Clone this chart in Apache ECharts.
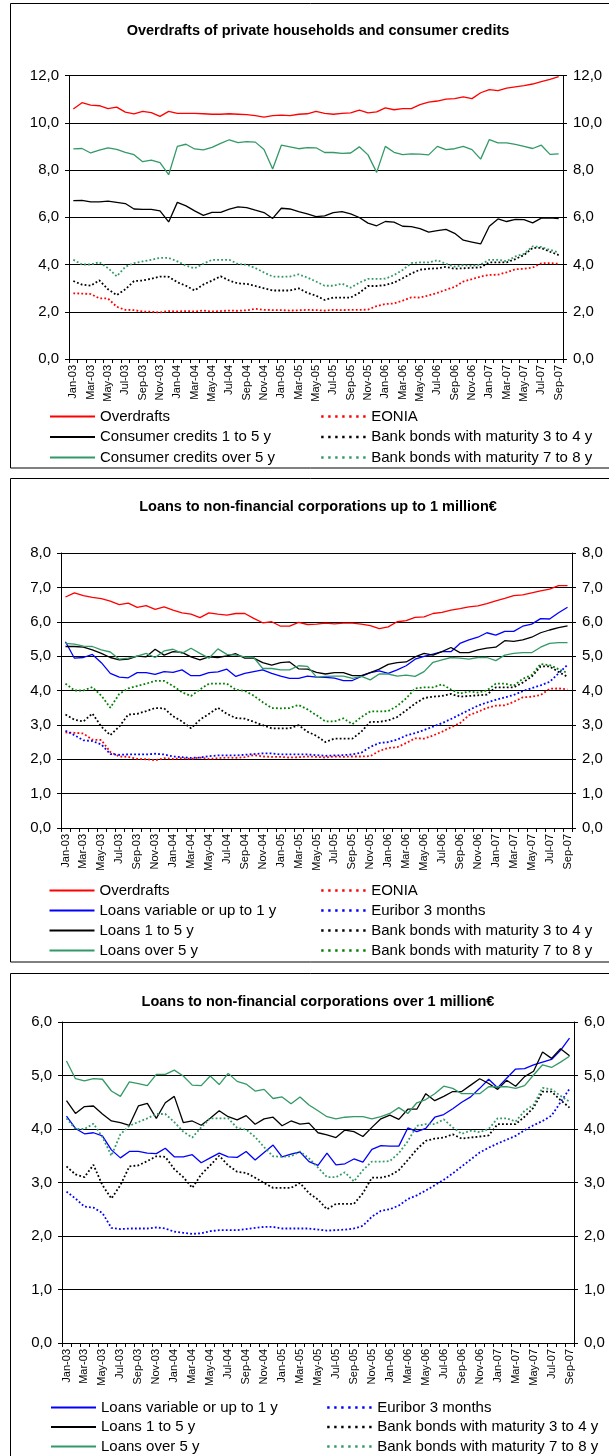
<!DOCTYPE html>
<html><head><meta charset="utf-8">
<script src="https://cdn.jsdelivr.net/npm/echarts/dist/echarts.min.js"></script>
<style>html,body{margin:0;padding:0;background:#fff}#c{width:609px;height:1456px}</style>
</head><body><div id="c"></div>
<script>
const months = ['Jan-03','Feb-03','Mar-03','Apr-03','May-03','Jun-03','Jul-03','Aug-03','Sep-03','Oct-03','Nov-03','Dec-03',
'Jan-04','Feb-04','Mar-04','Apr-04','May-04','Jun-04','Jul-04','Aug-04','Sep-04','Oct-04','Nov-04','Dec-04',
'Jan-05','Feb-05','Mar-05','Apr-05','May-05','Jun-05','Jul-05','Aug-05','Sep-05','Oct-05','Nov-05','Dec-05',
'Jan-06','Feb-06','Mar-06','Apr-06','May-06','Jun-06','Jul-06','Aug-06','Sep-06','Oct-06','Nov-06','Dec-06',
'Jan-07','Feb-07','Mar-07','Apr-07','May-07','Jun-07','Jul-07','Aug-07','Sep-07'];

// Common reference rates
const eonia = [2.78,2.77,2.75,2.57,2.56,2.21,2.08,2.07,2.01,2.00,1.97,2.03,
2.01,2.03,2.01,2.05,2.01,2.03,2.05,2.04,2.06,2.12,2.08,2.07,
2.07,2.05,2.06,2.08,2.07,2.05,2.08,2.07,2.08,2.08,2.09,2.24,
2.33,2.35,2.47,2.61,2.60,2.69,2.80,2.93,3.05,3.28,3.38,3.49,
3.56,3.57,3.67,3.80,3.82,3.87,4.05,4.06,4.03];
const euribor3m = [2.83,2.70,2.55,2.53,2.43,2.15,2.13,2.14,2.14,2.14,2.16,2.14,
2.08,2.06,2.04,2.05,2.09,2.11,2.11,2.11,2.13,2.15,2.17,2.17,
2.14,2.14,2.14,2.14,2.12,2.10,2.11,2.12,2.14,2.19,2.36,2.47,
2.50,2.57,2.69,2.76,2.85,2.95,3.05,3.17,3.30,3.43,3.56,3.65,
3.73,3.80,3.87,3.98,4.07,4.15,4.25,4.50,4.75];
const bonds34 = [3.30,3.15,3.10,3.33,2.95,2.70,2.95,3.30,3.32,3.40,3.49,3.48,
3.25,3.10,2.90,3.15,3.32,3.50,3.32,3.20,3.18,3.09,2.99,2.90,
2.90,2.90,2.99,2.80,2.68,2.50,2.60,2.60,2.60,2.80,3.09,3.09,
3.13,3.23,3.42,3.62,3.78,3.82,3.84,3.90,3.82,3.84,3.86,3.88,
4.09,4.09,4.09,4.23,4.40,4.70,4.70,4.54,4.40];
const bonds78 = [4.20,4.00,4.00,4.10,3.85,3.50,3.90,4.06,4.13,4.20,4.28,4.28,
4.13,3.95,3.84,4.03,4.20,4.20,4.20,4.02,3.99,3.85,3.66,3.49,
3.48,3.49,3.58,3.45,3.28,3.10,3.10,3.19,3.02,3.23,3.39,3.39,
3.40,3.55,3.77,4.06,4.09,4.09,4.18,4.03,3.91,3.97,3.94,4.00,
4.20,4.20,4.14,4.34,4.45,4.77,4.74,4.62,4.51];

// Panel 1: private households
const hhOverdrafts = [10.58,10.85,10.75,10.72,10.60,10.66,10.45,10.38,10.48,10.43,10.27,10.48,
10.40,10.40,10.40,10.38,10.36,10.36,10.38,10.36,10.34,10.30,10.24,10.30,
10.32,10.30,10.36,10.38,10.48,10.40,10.36,10.40,10.42,10.53,10.42,10.46,
10.63,10.55,10.60,10.60,10.77,10.87,10.92,11.00,11.02,11.10,11.02,11.27,
11.40,11.36,11.47,11.52,11.57,11.64,11.74,11.84,11.95];
const hhConsumer1to5 = [6.70,6.71,6.65,6.65,6.68,6.63,6.58,6.35,6.33,6.33,6.27,5.80,
6.63,6.48,6.27,6.08,6.21,6.21,6.34,6.44,6.41,6.30,6.20,5.95,
6.38,6.35,6.24,6.14,6.03,6.06,6.20,6.24,6.14,5.99,5.75,5.64,
5.82,5.79,5.62,5.60,5.52,5.37,5.43,5.49,5.32,5.03,4.95,4.87,
5.62,5.93,5.82,5.91,5.90,5.76,5.96,5.97,5.94];
const hhConsumerOver5 = [8.89,8.91,8.72,8.84,8.94,8.87,8.75,8.65,8.35,8.42,8.31,7.80,
9.00,9.09,8.89,8.85,8.96,9.13,9.28,9.16,9.20,9.18,8.87,8.04,
9.05,8.98,8.90,8.95,8.94,8.74,8.74,8.70,8.72,8.98,8.64,7.90,
9.00,8.75,8.65,8.68,8.67,8.64,9.00,8.86,8.90,9.00,8.86,8.46,
9.29,9.15,9.15,9.08,9.00,8.91,9.05,8.66,8.68];

// Panel 2: corporations up to 1 million
const smOverdrafts = [6.72,6.84,6.76,6.71,6.67,6.60,6.50,6.54,6.42,6.47,6.36,6.43,
6.34,6.26,6.22,6.12,6.26,6.22,6.19,6.24,6.24,6.10,5.97,6.00,
5.87,5.87,5.98,5.92,5.93,5.96,5.94,5.96,5.96,5.93,5.89,5.80,
5.85,6.00,6.03,6.13,6.14,6.24,6.27,6.34,6.38,6.43,6.46,6.53,
6.61,6.68,6.76,6.78,6.84,6.90,6.95,7.05,7.05];
const smVariable = [5.42,4.94,4.96,5.05,4.81,4.50,4.39,4.37,4.52,4.52,4.47,4.55,
4.53,4.60,4.43,4.43,4.52,4.54,4.62,4.41,4.50,4.55,4.60,4.50,
4.42,4.35,4.35,4.42,4.39,4.38,4.36,4.29,4.29,4.41,4.52,4.57,
4.50,4.60,4.72,4.91,4.99,5.06,5.13,5.13,5.37,5.47,5.55,5.68,
5.61,5.72,5.72,5.87,5.93,6.09,6.08,6.26,6.42];
const sm1to5 = [5.28,5.28,5.26,5.18,5.08,4.96,4.89,4.91,5.00,4.98,5.20,5.03,
5.13,5.11,4.98,4.89,4.98,4.96,5.01,5.07,4.94,4.94,4.81,4.74,
4.81,4.83,4.63,4.62,4.53,4.48,4.52,4.52,4.43,4.43,4.52,4.62,
4.76,4.81,4.83,4.98,5.08,5.03,5.13,5.25,5.10,5.10,5.18,5.23,
5.26,5.45,5.43,5.47,5.55,5.68,5.76,5.83,5.88];
const smOver5 = [5.37,5.35,5.29,5.28,5.18,5.12,4.91,4.94,5.00,5.08,4.96,5.15,
5.20,5.08,5.23,5.08,4.94,5.21,5.05,5.03,4.98,4.96,4.64,4.64,
4.60,4.60,4.72,4.70,4.39,4.41,4.42,4.42,4.35,4.41,4.31,4.48,
4.48,4.42,4.45,4.41,4.55,4.82,4.89,4.96,4.94,4.91,4.96,4.96,
4.87,5.03,5.08,5.10,5.10,5.26,5.37,5.39,5.39];

// Panel 3: corporations over 1 million
const lgVariable = [4.24,4.01,3.91,3.93,3.87,3.61,3.46,3.58,3.58,3.55,3.54,3.64,
3.48,3.48,3.52,3.37,3.46,3.55,3.48,3.47,3.58,3.42,3.56,3.70,
3.48,3.53,3.57,3.39,3.32,3.55,3.33,3.35,3.44,3.38,3.62,3.69,
3.68,3.68,4.02,3.95,4.01,4.22,4.27,4.38,4.50,4.60,4.76,4.93,
4.77,4.95,5.12,5.13,5.20,5.25,5.30,5.47,5.70];
const lg1to5 = [4.53,4.29,4.42,4.43,4.28,4.15,4.12,4.07,4.43,4.48,4.20,4.49,
4.61,4.12,4.15,4.07,4.20,4.34,4.23,4.17,4.25,4.09,4.19,4.22,
4.06,4.15,4.09,4.11,3.93,3.89,3.84,3.98,3.95,3.86,4.03,4.19,
4.26,4.18,4.37,4.37,4.66,4.53,4.61,4.70,4.70,4.82,4.94,4.85,
4.74,4.91,4.80,4.98,5.08,5.44,5.32,5.50,5.37];
const lgOver5 = [5.27,4.94,4.90,4.94,4.93,4.71,4.61,4.88,4.85,4.81,5.02,5.02,
5.10,4.99,4.82,4.81,4.99,4.83,5.04,4.89,4.84,4.71,4.74,4.57,
4.60,4.47,4.60,4.45,4.34,4.23,4.19,4.22,4.23,4.23,4.19,4.23,
4.29,4.40,4.29,4.49,4.55,4.66,4.80,4.76,4.66,4.66,4.66,4.79,
4.79,4.79,4.76,4.81,5.01,5.20,5.15,5.25,5.36];

const titles = ['Overdrafts of private households and consumer credits',
  'Loans to non-financial corporations up to 1 million€',
  'Loans to non-financial corporations over 1 million€'];
const yMax = [12, 8, 6];
const yStep = [2, 1, 1];

const FONT = "'Liberation Sans', Arial, Helvetica, sans-serif";
const RED = '#FF0000', BLACK = '#000000', GREEN = '#339966', BLUE = '#0000FF', DKGREEN = '#008000';

const grids = [
  {left: 69, top: 75.5, width: 494, height: 283.5},
  {left: 61, top: 553, width: 511, height: 275},
  {left: 62, top: 1022, width: 512, height: 321}
];

const xAxes = grids.map((g, i) => ({
  type: 'category', gridIndex: i, data: months, boundaryGap: true,
  axisLine: {show: true, onZero: false, lineStyle: {color: '#000', width: 1}},
  axisTick: {show: true, interval: 0, length: 4, lineStyle: {color: '#000'}},
  axisLabel: {interval: 1, rotate: 90, fontSize: 11, margin: 6, color: '#000', fontFamily: FONT},
  splitLine: {show: false}
}));
const yAxes = [];
grids.forEach((g, i) => {
  ['left', 'right'].forEach(pos => {
    yAxes.push({
      type: 'value', gridIndex: i, position: pos, min: 0, max: yMax[i], interval: yStep[i],
      axisLine: {show: true, lineStyle: {color: '#000', width: 1}},
      axisTick: {show: true, length: 4, lineStyle: {color: '#000'}},
      axisLabel: {fontSize: 15, margin: 10, color: '#000', fontFamily: FONT,
        formatter: v => v.toFixed(1).replace('.', ',')},
      splitLine: {show: pos === 'left', lineStyle: {color: '#000', width: 1}}
    });
  });
});

function ln(name, data, color, dotted, gi) {
  return {
    type: 'line', name: name, data: data, xAxisIndex: gi, yAxisIndex: gi * 2,
    symbol: 'none', showSymbol: false, silent: true, animation: false,
    lineStyle: {color: color, width: dotted ? 1.8 : 1.3, type: dotted ? [1.8, 2.2] : 'solid'},
    itemStyle: {color: color}
  };
}
const N78b = 'Bank bonds with maturity 7 to 8 y|p2';
const series = [
  ln('Overdrafts', hhOverdrafts, RED, false, 0),
  ln('Consumer credits 1 to 5 y', hhConsumer1to5, BLACK, false, 0),
  ln('Consumer credits over 5 y', hhConsumerOver5, GREEN, false, 0),
  ln('EONIA', eonia, RED, true, 0),
  ln('Bank bonds with maturity 3 to 4 y', bonds34, BLACK, true, 0),
  ln('Bank bonds with maturity 7 to 8 y', bonds78, GREEN, true, 0),

  ln('Overdrafts', smOverdrafts, RED, false, 1),
  ln('Loans variable or up to 1 y', smVariable, BLUE, false, 1),
  ln('Loans 1 to 5 y', sm1to5, BLACK, false, 1),
  ln('Loans over 5 y', smOver5, GREEN, false, 1),
  ln('EONIA', eonia, RED, true, 1),
  ln('Euribor 3 months', euribor3m, BLUE, true, 1),
  ln('Bank bonds with maturity 3 to 4 y', bonds34, BLACK, true, 1),
  ln(N78b, bonds78, DKGREEN, true, 1),

  ln('Loans variable or up to 1 y', lgVariable, BLUE, false, 2),
  ln('Loans 1 to 5 y', lg1to5, BLACK, false, 2),
  ln('Loans over 5 y', lgOver5, GREEN, false, 2),
  ln('Euribor 3 months', euribor3m, BLUE, true, 2),
  ln('Bank bonds with maturity 3 to 4 y', bonds34, BLACK, true, 2),
  ln('Bank bonds with maturity 7 to 8 y', bonds78, GREEN, true, 2)
];

const hideSym = {opacity: 0, borderWidth: 0};
function lg(left, top, gap, names, dotted) {
  const o = {
    orient: 'vertical', left: left, top: top, itemWidth: 45, itemHeight: 14, itemGap: gap,
    selectedMode: false, padding: 0,
    itemStyle: hideSym,
    textStyle: {fontSize: 15, lineHeight: 14, color: '#000', fontFamily: FONT},
    formatter: n => n.split('|')[0],
    data: names.map(n => ({name: n, itemStyle: hideSym}))
  };
  if (dotted) o.lineStyle = {type: [2.4, 4.6], width: 2.4};
  return o;
}
const legends = [
  lg(49, 409, 5.5, ['Overdrafts', 'Consumer credits 1 to 5 y', 'Consumer credits over 5 y'], false),
  lg(320, 409, 5.5, ['EONIA', 'Bank bonds with maturity 3 to 4 y', 'Bank bonds with maturity 7 to 8 y'], true),
  lg(48.5, 883, 5, ['Overdrafts', 'Loans variable or up to 1 y', 'Loans 1 to 5 y', 'Loans over 5 y'], false),
  lg(320, 883, 5, ['EONIA', 'Euribor 3 months', 'Bank bonds with maturity 3 to 4 y', N78b], true),
  lg(50, 1400, 4.5, ['Loans variable or up to 1 y', 'Loans 1 to 5 y', 'Loans over 5 y'], false),
  lg(326, 1400, 4.5, ['Euribor 3 months', 'Bank bonds with maturity 3 to 4 y', 'Bank bonds with maturity 7 to 8 y'], true)
];

const boxes = [[3.5, 468], [478.5, 962], [973.5, 1480]];
const titleY = [31, 507, 1002];
const graphic = [];
boxes.forEach(b => graphic.push({type: 'rect', silent: true, z: -10,
  shape: {x: 10.5, y: b[0], width: 640, height: b[1] - b[0]},
  style: {fill: 'none', stroke: '#000', lineWidth: 1}}));
titles.forEach((t, i) => graphic.push({type: 'text', silent: true, x: 318, y: titleY[i],
  style: {text: t, align: 'center', verticalAlign: 'middle', fill: '#000',
    font: 'bold 14.5px ' + FONT}}));

const chart = echarts.init(document.getElementById('c'), null, {renderer: 'canvas'});
chart.setOption({
  animation: false, backgroundColor: '#fff',
  grid: grids, xAxis: xAxes, yAxis: yAxes, series: series, legend: legends, graphic: graphic
});
</script></body></html>
